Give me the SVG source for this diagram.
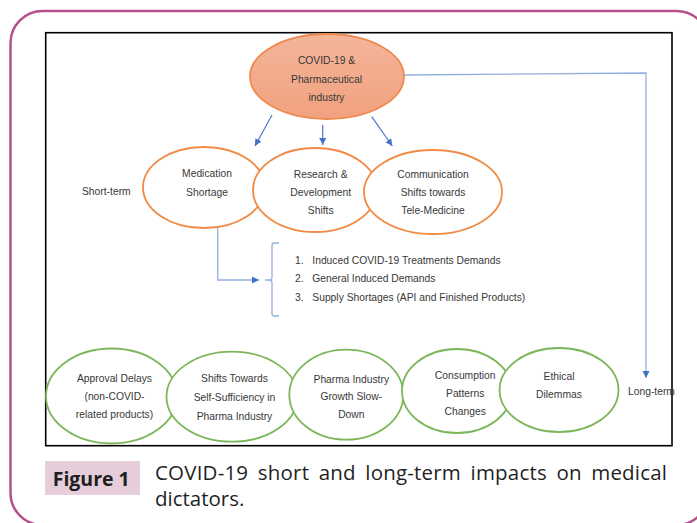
<svg xmlns="http://www.w3.org/2000/svg" width="697" height="523" viewBox="0 0 697 523">
<style>
.t{font-family:"Liberation Sans",Arial,sans-serif;font-size:10.3px;fill:#383838;text-anchor:middle}
.ts{text-anchor:start}
.o{fill:#fff;stroke:#f08a45;stroke-width:1.8}
.g{fill:#fff;stroke:#7cb65a;stroke-width:1.8}
.a{fill:none;stroke:#4b79c9;stroke-width:1.2}
.al{fill:none;stroke:#93afe0;stroke-width:1.3}
.cap{font-family:"Open Sans","Noto Sans",sans-serif;fill:#1f1f1f}
</style>
<defs>
<marker id="ah" markerUnits="userSpaceOnUse" markerWidth="8" markerHeight="8" refX="7" refY="4" orient="auto">
<path d="M0,0.5 L7,4 L0,7.5 Z" fill="#4472c4"/>
</marker>
<linearGradient id="cg" x1="0" y1="0" x2="0" y2="1"><stop offset="0" stop-color="#f4b59a"/><stop offset="1" stop-color="#f1a17f"/></linearGradient>
</defs>
<rect x="10.5" y="11" width="698" height="514" rx="32" fill="none" stroke="#b5528c" stroke-width="2.5"/>
<rect x="45.7" y="32.7" width="626.3" height="413" fill="#fff" stroke="#000" stroke-width="1.6"/>
<g id="connectors">
<line class="a" x1="272" y1="115" x2="255" y2="146" marker-end="url(#ah)"/>
<line class="a" x1="322.7" y1="125" x2="322.7" y2="145" marker-end="url(#ah)"/>
<line class="a" x1="371.7" y1="116.7" x2="392.3" y2="146" marker-end="url(#ah)"/>
<path class="al" d="M404,75 L646,73 L646,378" marker-end="url(#ah)"/>
<path class="al" d="M217.7,228 V280 H259" marker-end="url(#ah)"/>
<path class="al" d="M279,243 H274.5 Q272,243 272,245.5 V277.5 Q272,280 269.5,280 H265 M269.5,280 Q272,280 272,282.5 V313.5 Q272,316 274.5,316 H279"/>
</g>
<g id="covid">
<ellipse cx="327" cy="76.5" rx="77" ry="42.5" fill="url(#cg)" stroke="#ee8a4e" stroke-width="1.8"/>
<text class="t" x="326.5" y="64">COVID-19 &amp;</text>
<text class="t" x="326.5" y="83">Pharmaceutical</text>
<text class="t" x="326.5" y="101">industry</text>
</g>
<g id="short-term"><text class="t ts" x="82" y="194.7">Short-term</text></g>
<g id="medication">
<ellipse class="o" cx="204" cy="187.5" rx="61" ry="40.5"/>
<text class="t" x="207" y="176.7">Medication</text>
<text class="t" x="207" y="195.7">Shortage</text>
</g>
<g id="research">
<ellipse class="o" cx="315" cy="190" rx="62" ry="42"/>
<text class="t" x="320.7" y="178">Research &amp;</text>
<text class="t" x="320.7" y="196.3">Development</text>
<text class="t" x="320.7" y="214">Shifts</text>
</g>
<g id="communication">
<ellipse class="o" cx="433" cy="192" rx="69" ry="42"/>
<text class="t" x="433" y="177.5">Communication</text>
<text class="t" x="433" y="195.7">Shifts towards</text>
<text class="t" x="433" y="213.5">Tele-Medicine</text>
</g>
<g id="list">
<text class="t ts" x="295" y="264">1.</text><text class="t ts" x="312.3" y="264">Induced COVID-19 Treatments Demands</text>
<text class="t ts" x="295" y="282.3">2.</text><text class="t ts" x="312.3" y="282.3">General Induced Demands</text>
<text class="t ts" x="295" y="300.7">3.</text><text class="t ts" x="312.3" y="300.7">Supply Shortages (API and Finished Products)</text>
</g>
<g id="approval">
<ellipse class="g" cx="111.5" cy="396" rx="65.5" ry="47.5"/>
<text class="t" x="114.5" y="382">Approval Delays</text>
<text class="t" x="114.5" y="400">(non-COVID-</text>
<text class="t" x="114.5" y="418">related products)</text>
</g>
<g id="self-sufficiency">
<ellipse class="g" cx="232" cy="396.7" rx="65.5" ry="45"/>
<text class="t" x="234.5" y="382.3">Shifts Towards</text>
<text class="t" x="234.5" y="401.3">Self-Sufficiency in</text>
<text class="t" x="234.5" y="420">Pharma Industry</text>
</g>
<g id="growth">
<ellipse class="g" cx="346.3" cy="394.7" rx="57" ry="45"/>
<text class="t" x="351.3" y="382.7">Pharma Industry</text>
<text class="t" x="351.3" y="400.3">Growth Slow-</text>
<text class="t" x="351.3" y="418">Down</text>
</g>
<g id="consumption">
<ellipse class="g" cx="457" cy="391" rx="55" ry="42"/>
<text class="t" x="465.2" y="379">Consumption</text>
<text class="t" x="465.2" y="397">Patterns</text>
<text class="t" x="465.2" y="415.3">Changes</text>
</g>
<g id="ethical">
<ellipse class="g" cx="559" cy="390" rx="59.5" ry="42"/>
<text class="t" x="559" y="379.7">Ethical</text>
<text class="t" x="559" y="398">Dilemmas</text>
</g>
<g id="long-term"><text class="t ts" x="628" y="395.3">Long-term</text></g>
<g id="caption">
<rect x="45" y="461" width="95" height="34" fill="#e6cdda"/>
<text class="cap" x="52.7" y="486" font-size="19.5" font-weight="bold">Figure 1</text>
<text class="cap" x="155" y="480" font-size="20.5" word-spacing="4" textLength="512" lengthAdjust="spacing">COVID-19 short and long-term impacts on medical</text>
<text class="cap" x="155" y="505.5" font-size="20.5">dictators.</text>
</g>
</svg>
